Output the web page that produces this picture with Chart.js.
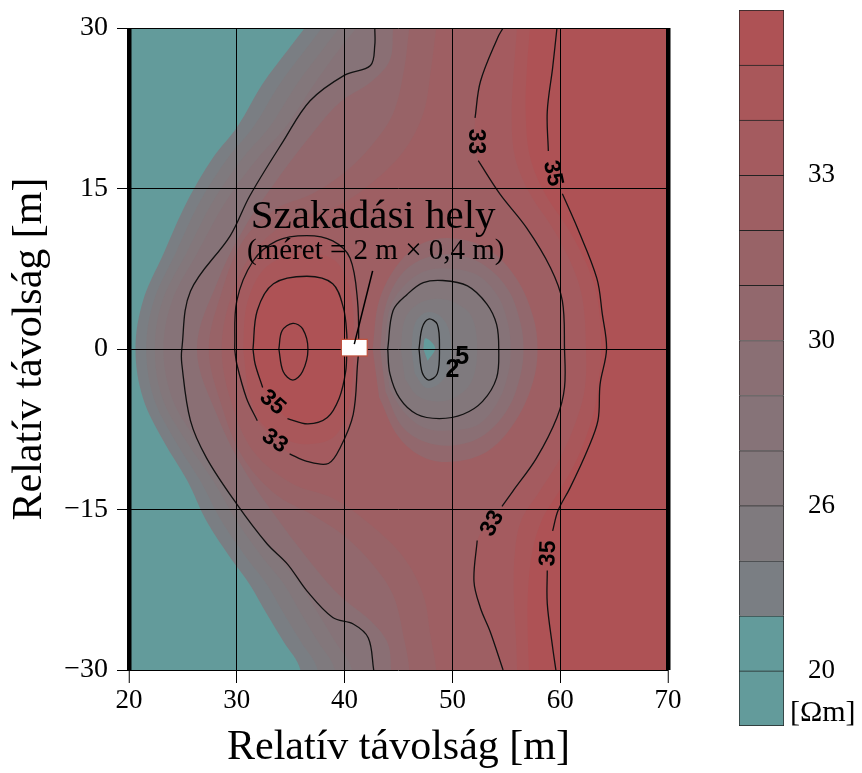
<!DOCTYPE html>
<html>
<head>
<meta charset="utf-8">
<script src="https://cdn.jsdelivr.net/npm/chart.js@4.4.1/dist/chart.umd.min.js"></script>
<style>
  html, body { margin: 0; padding: 0; background: #fff; }
  #wrap { position: relative; width: 862px; height: 773px; }
  #main { position: absolute; left: 0; top: 0; }
  #bar  { position: absolute; left: 700px; top: 0; }
</style>
</head>
<body>
<div id="wrap">
  <canvas id="main" width="700" height="773"></canvas>
  <canvas id="bar" width="162" height="773"></canvas>
</div>
<script>
// ─────────────────────────────────────────────
// Resistivity section around the break point (contour map + colour bar)
// ─────────────────────────────────────────────

const SERIF = "'Liberation Serif', 'Times New Roman', serif";

// axes
const X_TICKS = [20, 30, 40, 50, 60, 70];
const Y_TICKS = [-30, -15, 0, 15, 30];

// colour bar: 13 equal bands, bottom → top, labels sit on band boundaries
const CB_BANDS    = [1, 1, 1, 1, 1, 1, 1, 1, 1, 1, 1, 1, 1];
const CB_TICK_AT  = [1, 4, 7, 10];
const CB_TICK_TXT = ["20", "26", "30", "33"];
const BAND_COLORS = [
    "#639b9b", "#639b9b", "#7a7e83", "#7f7a7e", "#83777b", "#867378", "#8a6f74",
    "#92686d", "#986367", "#9e5f63", "#a45b5f", "#a9575a", "#ae5255",
];

// ── band edges running top → bottom (x [m], y [m]); region to the right is higher ──
const edge_b3 = [[36.3,30],[34.7,27.9],[32.4,24.8],[30.0,20.7],[27.8,17.9],[25.4,13.8],[23.2,8.9],[21.3,4.5],[20.6,0],
                 [21.3,-4.6],[23.2,-8.6],[25.4,-12.3],[27.2,-16.1],[29.4,-19.5],[31.2,-22],[32.8,-24.8],[34.3,-27.3],[35.9,-30]];
const edge_b4 = [[37.9,30],[36.3,27.9],[34.0,24.8],[31.5,20.7],[29.2,17.9],[26.6,13.8],[24.3,8.9],[22.3,4.5],[21.6,0],
                 [22.3,-4.6],[24.3,-8.6],[26.6,-12.3],[28.6,-16.1],[30.9,-19.5],[32.8,-22],[34.4,-24.8],[35.9,-27.3],[37.5,-30]];
const edge_b5 = [[39.5,30],[37.9,27.9],[35.6,24.8],[33.0,20.7],[30.6,17.9],[27.8,13.8],[25.3,8.9],[23.1,4.5],[22.4,0],
                 [23.1,-4.6],[25.3,-8.6],[27.8,-12.3],[30.0,-16.1],[32.4,-19.5],[34.4,-22],[36.0,-24.8],[37.5,-27.3],[39.1,-30]];
const edge_b6 = [[41.1,30],[39.5,28],[37.2,24.8],[34.5,20.7],[32.0,17.9],[29.0,13.8],[26.3,8.9],[24.0,4.5],[23.2,0],
                 [24.0,-4.6],[26.3,-8.6],[29.0,-12.3],[31.4,-16.1],[33.9,-19.5],[35.9,-22],[37.6,-24.8],[39.1,-27.3],[40.7,-30]];
// unlabelled black contour on the left (also the band 7 edge)
const c_left  = [[42.8,30],[42.8,28.4],[42.4,26.5],[40.0,25.6],[36.8,23.2],[34.3,19.4],[31.2,14.3],[29.4,10.6],[25.7,5.4],[24.9,0],
                 [24.9,-1.4],[25.7,-6.7],[27.2,-10.2],[30.0,-14.5],[32.8,-18.2],[34.7,-20.1],[36.5,-22.6],[38.9,-25.1],[40.8,-25.7],[42.2,-27.0],[42.7,-30]];
const edge_b8 = [[44.5,30],[44.2,27],[42.5,25],[39.5,23],[36.5,19.5],[33.5,15.5],[30.8,11.5],[28.3,6.5],[26.3,0],
                 [28.3,-6.5],[30.8,-11.5],[33.5,-15.5],[36.5,-19.5],[39.5,-23],[42.5,-25.5],[44,-27.5],[44.3,-30]];
const edge_b9 = [[46,30],[45.5,26],[44.5,22],[42.5,19],[40,16.5],[37,14.5],[33.5,13],[30.5,10],[28.5,5],[27.4,0],
                 [28.5,-5],[30.5,-10],[33.5,-13.5],[37,-15.5],[40,-17.5],[42.5,-20],[44.5,-23],[45.5,-27],[46,-30]];
const edge_b10 = [[48.5,30],[48,26],[47.3,22],[45.5,18.5],[42.5,15.5],[39,13.2],[35,12],[31.5,9],[29.5,5],[28.6,0],
                  [29.5,-5],[31.5,-9.5],[35,-12.5],[39,-14],[42.5,-16.5],[45.5,-19.5],[47.3,-23],[48,-27],[48.5,-30]];
// 33 contour on the right (band 11 edge)
const c33_right = [[54.7,30],[54.2,29.1],[52.6,25.0],[52.1,21.6],[52.4,17.6],[54.4,14.5],[56.9,11.3],[59.1,7.6],[60.2,4.5],[60.4,0],
                   [60.4,-3.6],[59.7,-6.4],[57.8,-10.2],[55.6,-13.3],[54.6,-14.7],[52.3,-17.9],[52.0,-21.7],[52.6,-24.2],[53.5,-26.4],[54.7,-30]];
const edge_b12 = [[56,30],[55.7,26],[55.5,22],[55.8,18],[57.2,14.5],[59.3,11.3],[61.2,7.6],[62.1,4.5],[62.4,0],
                  [62.3,-3.6],[61.6,-6.4],[60,-10.2],[58.1,-13.3],[56.4,-16],[55.8,-19],[55.7,-23],[55.9,-27],[56,-30]];
const edge_b13 = [[57.2,30],[56.9,26],[56.8,22],[57.2,18],[58.6,14.5],[60.7,11.3],[62.6,7.6],[63.5,4.5],[63.8,0],
                  [63.5,-3.6],[63,-6.4],[61.6,-10.2],[59.9,-13.3],[58.3,-16],[57.4,-19],[57,-23],[57,-27],[57.1,-30]];
// 35 contour on the right
const c35_right = [[59.7,30],[59.3,26.3],[58.8,22.2],[58.9,18.5],[60.2,14.5],[61.6,11.3],[63.4,6.6],[63.9,3.3],[64.3,0],[63.7,-3.3],
                   [63.5,-6.7],[62.5,-9.5],[60.9,-13.0],[59.8,-15.1],[59.3,-17.0],[58.8,-20.7],[58.8,-23.8],[59.3,-27.9],[59.6,-30]];

// ── high-resistivity blob left of the break ──
const c33_ring = [[29.8,0],[30,4.5],[31.5,8.2],[33.7,10.1],[36.5,10.6],[38.9,10.1],[40.5,8.5],[41.2,4.5],[41.3,0],
                  [41.2,-1.4],[40.8,-6.1],[39.6,-9.2],[38.5,-10.7],[36.5,-10.5],[34.9,-9.8],[31.9,-6.7],[30.9,-4.6],[30,-1.4]];
const blob_b12 = [[30.6,0],[30.9,4],[32.3,7.2],[34.5,8.7],[36.5,9],[38.9,8.4],[40.2,6.5],[40.8,3.5],[40.8,0],
                  [40.7,-3.5],[40.1,-6.3],[38.9,-8.3],[36.5,-8.9],[34.5,-8.4],[32.2,-6.8],[31,-3.8]];
const c35_ring = [[31.5,0],[31.9,3.6],[33.4,6.1],[36.5,6.8],[38.9,6.1],[39.9,3.8],[40.2,1.4],[40.2,0],
                  [40.1,-2.1],[39.5,-4.6],[38.4,-6.4],[36.6,-7.0],[34.7,-6.5],[32.4,-3.6],[31.7,-1.4]];
const red_inner = [[33.9,0],[34.2,1.7],[35.2,2.4],[36.1,1.9],[36.6,0],[36.1,-2.1],[35.2,-2.9],[34.3,-2.1]];

// ── low-resistivity blob right of the break ──
const low_b8 = [[42.6,0],[43.2,4.5],[45,8],[47.5,10],[50.5,10.3],[53.5,9.2],[56,6.5],[57.5,3],[57.9,0],
                [57.5,-3],[56,-6.5],[53.5,-9.4],[50.5,-10.5],[47.5,-10.2],[45,-8.2],[43.2,-4.5]];
const low_b7 = [[43.3,0],[43.8,4],[45.3,7],[47.5,8.5],[50.3,8.8],[53,7.8],[55.2,5.5],[56.3,2.5],[56.6,0],
                [56.3,-2.5],[55.2,-5.5],[53,-8],[50.3,-9],[47.5,-8.7],[45.3,-7.2],[43.8,-4]];
const low_b6 = [[43.7,0],[44.2,3.8],[45.6,6],[47.5,7.3],[50,7.5],[52.5,6.8],[54.3,4.8],[55.2,2.2],[55.4,0],
                [55.2,-2.2],[54.3,-4.8],[52.5,-7],[50,-7.6],[47.5,-7.4],[45.6,-6],[44.2,-3.8]];
const low_outer = [[44.0,0],[44.5,3.6],[45.8,5.1],[47.3,6.2],[49.1,6.4],[51.4,5.9],[53.2,4.2],[54.1,2.3],[54.3,0],
                   [54.1,-2.7],[52.8,-4.9],[51.0,-6.1],[48.8,-6.5],[46.7,-6.1],[45.1,-4.6],[44.2,-2.3]];
const low_b4 = [[45.2,0],[45.6,2.8],[46.8,4.2],[48.5,4.7],[50.3,4.3],[51.8,3],[52.3,0],
                [51.8,-3],[50.3,-4.5],[48.5,-4.9],[46.8,-4.4],[45.6,-2.8]];
const low_b3 = [[46.2,0],[46.5,2.3],[47.5,3.4],[48.7,3.2],[49.6,2],[49.9,0],[49.6,-2],[48.7,-3.3],[47.5,-3.6],[46.5,-2.3]];
const low_inner = [[46.9,0],[47.2,2.0],[47.8,2.8],[48.6,2.3],[48.8,0],[48.6,-2.3],[47.8,-2.9],[47.2,-2.2]];
const low_core  = [[47.3,0],[47.5,1.0],[48.4,0.1],[47.7,-1.1]];

// contour labels: text, x, y, rotation [deg]
const CONTOUR_LABELS = [
    ["33", 52.1, 19.4, 90], ["35", 59.3, 16.4, 78],
    ["33", 53.7, -16.3, -62], ["35", 58.9, -19.1, -88],
    ["35", 33.3, -5.0, 42], ["33", 33.5, -8.6, 35],
    ["2", 50.0, -2.0, 0], ["5", 50.9, -0.8, 0],
];

// the break ("szakadás") marker, its leader and the note
const BREAK_BOX = [[39.7, 0.9], [42.1, -0.65]];
const LEADER    = [[40.9, 0.45], [42.6, 7.3]];
const NOTE_TITLE = "Szakadási hely";
const NOTE_SUB   = "(méret = 2 m × 0,4 m)";
const NOTE_TITLE_AT = [31.3, 11.3];
const NOTE_SUB_AT   = [30.95, 8.4];

// ═══════════════════════════════════════════════
// BUILD DATASETS
// ═══════════════════════════════════════════════
const X0 = 20, X1 = 70, Y0 = -30, Y1 = 30;
const toXY = pts => pts.map(p => p ? { x: p[0], y: p[1] } : { x: null, y: null });

// close an edge (top → bottom) round the right side of the plot, beyond the frame
function rightOf(edge) {
    const top = edge[0], bot = edge[edge.length - 1];
    return edge.concat([[bot[0], Y0 - 4], [X1 + 4, Y0 - 4], [X1 + 4, Y1 + 4], [top[0], Y1 + 4]]);
}
const closed = ring => ring.concat([ring[0]]);
// break a contour where a label sits (gap before each listed index)
function withGaps(pts, idx) {
    const out = [];
    pts.forEach((p, i) => { if (idx.includes(i)) out.push(null); out.push(p); });
    return out;
}

const fills = [
    [[[X0 - 4, Y1 + 4], [X1 + 4, Y1 + 4], [X1 + 4, Y0 - 4], [X0 - 4, Y0 - 4]], 0],
    [rightOf(edge_b3), 2], [rightOf(edge_b4), 3], [rightOf(edge_b5), 4], [rightOf(edge_b6), 5],
    [rightOf(c_left), 6], [rightOf(edge_b8), 7], [rightOf(edge_b9), 8], [rightOf(edge_b10), 9],
    [rightOf(c33_right), 10], [rightOf(edge_b12), 11], [rightOf(edge_b13), 12],
    [c33_ring, 10], [blob_b12, 11], [c35_ring, 12],
    [low_b8, 7], [low_b7, 6], [low_b6, 5], [low_outer, 4], [low_b4, 3], [low_b3, 2], [low_core, 0],
];

const lines = [
    c_left,
    withGaps(c33_right, [4, 15]),
    withGaps(c35_right, [4, 15]),
    withGaps(closed(c33_ring), [15]),
    withGaps(closed(c35_ring), [13]),
    closed(red_inner),
    closed(low_outer),
    closed(low_inner),
];

const datasets = [];
fills.forEach(([pts, band], i) => datasets.push({
    data: toXY(pts), showLine: true, fill: "shape", backgroundColor: BAND_COLORS[band],
    borderWidth: 0, pointRadius: 0, tension: i === 0 ? 0 : 0.35,
}));
lines.forEach(pts => datasets.push({
    data: toXY(pts), showLine: true, fill: false, borderColor: "#111", borderWidth: 1.3,
    pointRadius: 0, tension: 0.35,
}));
// later entries paint on top
datasets.forEach((d, i) => { d.order = datasets.length - i; });

// ═══════════════════════════════════════════════
// OVERLAY — marker box, leader, labels (above grid)
// ═══════════════════════════════════════════════
const overlay = {
    id: "overlay",
    afterDraw(chart) {
        const { ctx, scales: { x, y } } = chart;
        const px = v => x.getPixelForValue(v), py = v => y.getPixelForValue(v);
        ctx.save();

        // break marker
        const bx = px(BREAK_BOX[0][0]), by = py(BREAK_BOX[0][1]);
        const bw = px(BREAK_BOX[1][0]) - bx, bh = py(BREAK_BOX[1][1]) - by;
        ctx.fillStyle = "#fff";
        ctx.fillRect(bx, by, bw, bh);
        ctx.strokeStyle = "#c0503c";
        ctx.lineWidth = 1.2;
        ctx.strokeRect(bx, by, bw, bh);

        // leader line
        ctx.strokeStyle = "#000";
        ctx.lineWidth = 1.5;
        ctx.beginPath();
        ctx.moveTo(px(LEADER[0][0]), py(LEADER[0][1]));
        ctx.lineTo(px(LEADER[1][0]), py(LEADER[1][1]));
        ctx.stroke();

        // contour labels
        ctx.fillStyle = "#000";
        ctx.textAlign = "center";
        ctx.textBaseline = "middle";
        CONTOUR_LABELS.forEach(([t, vx, vy, deg]) => {
            ctx.font = t.length === 1 ? "bold 25px 'Liberation Sans', Arial, sans-serif"
                                      : "bold 23px 'Liberation Sans', Arial, sans-serif";
            ctx.save();
            ctx.translate(px(vx), py(vy));
            ctx.rotate(deg * Math.PI / 180);
            ctx.fillText(t, 0, 0);
            ctx.restore();
        });

        // note
        ctx.textAlign = "left";
        ctx.textBaseline = "alphabetic";
        ctx.font = "41px " + SERIF;
        ctx.fillText(NOTE_TITLE, px(NOTE_TITLE_AT[0]), py(NOTE_TITLE_AT[1]));
        ctx.font = "29px " + SERIF;
        ctx.fillText(NOTE_SUB, px(NOTE_SUB_AT[0]), py(NOTE_SUB_AT[1]));
        ctx.restore();
    }
};

const thick = c => (c.tick && (c.tick.value === X0 || c.tick.value === X1)) ? 4.5 : 1;

new Chart(document.getElementById("main"), {
    type: "scatter",
    data: { datasets },
    options: {
        responsive: false,
        animation: false,
        events: [],
        layout: { padding: { top: 28, right: 32, left: 0, bottom: 0 } },
        plugins: { legend: { display: false }, tooltip: { enabled: false } },
        scales: {
            x: {
                type: "linear", min: X0, max: X1,
                afterBuildTicks: s => { s.ticks = X_TICKS.map(v => ({ value: v })); },
                afterFit: s => { s.height = 103; },
                ticks: { font: { family: SERIF, size: 27 }, color: "#000", padding: 2, maxRotation: 0 },
                grid: { z: 1, color: "#000", lineWidth: thick, tickWidth: 1, tickColor: "#000", tickLength: 13 },
                border: { display: false },
                title: {
                    display: true, text: "Relatív távolság [m]", color: "#000",
                    font: { family: SERIF, size: 42 }, padding: { top: 0, bottom: 0 }
                }
            },
            y: {
                type: "linear", min: Y0, max: Y1,
                afterBuildTicks: s => { s.ticks = Y_TICKS.map(v => ({ value: v })); },
                afterFit: s => { s.width = 129; },
                ticks: {
                    font: { family: SERIF, size: 28 }, color: "#000", padding: 9,
                    callback: v => (v < 0 ? "\u2212" + Math.abs(v) : String(v))
                },
                grid: { z: 1, color: "#000", lineWidth: 1, tickColor: "#000", tickLength: 12 },
                border: { display: false },
                title: {
                    display: true, text: "Relatív távolság [m]", color: "#000",
                    font: { family: SERIF, size: 42 }, padding: { top: 5, bottom: 0 }
                }
            }
        }
    },
    plugins: [overlay]
});

// ═══════════════════════════════════════════════
// COLOUR BAR
// ═══════════════════════════════════════════════
const unitLabel = {
    id: "unitLabel",
    afterDraw(chart) {
        const { ctx, chartArea, scales: { y } } = chart;
        ctx.save();
        ctx.fillStyle = "#000";
        ctx.font = "30px " + SERIF;
        ctx.textAlign = "left";
        ctx.textBaseline = "middle";
        ctx.fillText("[\u03A9m]", chartArea.right + 6, y.getPixelForValue(0) - 13);
        ctx.restore();
    }
};

new Chart(document.getElementById("bar"), {
    type: "bar",
    data: {
        labels: [""],
        datasets: CB_BANDS.map((v, i) => ({
            data: [v],
            backgroundColor: BAND_COLORS[i],
            borderColor: "#222",
            borderWidth: i === 0 ? 1 : { top: 1, left: 1, right: 1, bottom: 0 },
            borderSkipped: false,
            barPercentage: 1,
            categoryPercentage: 1,
        }))
    },
    options: {
        responsive: false,
        animation: false,
        events: [],
        layout: { padding: { left: 39, top: 10, bottom: 47, right: 0 } },
        plugins: { legend: { display: false }, tooltip: { enabled: false } },
        scales: {
            x: { display: false, stacked: true },
            y: {
                stacked: true, position: "right", min: 0, max: CB_BANDS.length,
                afterBuildTicks: s => { s.ticks = CB_TICK_AT.map(v => ({ value: v })); },
                afterFit: s => { s.width = 78; },
                ticks: {
                    font: { family: SERIF, size: 27, lineHeight: 0.5 }, color: "#000", padding: 0,
                    callback: (v, i) => CB_TICK_TXT[i]
                },
                grid: { display: false, drawTicks: true, tickLength: 24 },
                border: { display: false }
            }
        }
    },
    plugins: [unitLabel]
});
</script>
</body>
</html>
